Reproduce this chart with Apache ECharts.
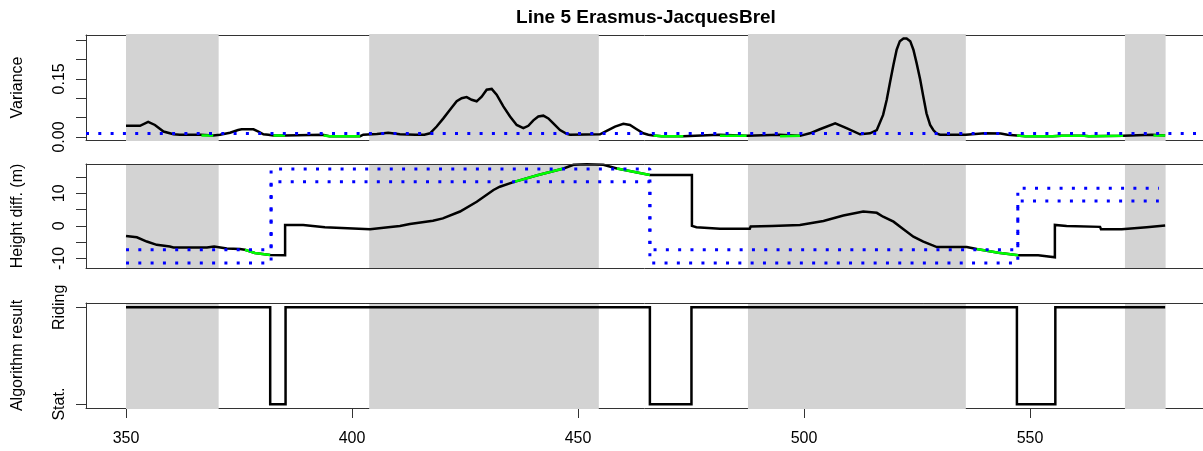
<!DOCTYPE html>
<html>
<head>
<meta charset="utf-8">
<script src="https://cdn.jsdelivr.net/npm/echarts@6/dist/echarts.min.js"></script>
<style>
  html, body { margin: 0; padding: 0; background: #fff; }
  #chart { width: 1203px; height: 451px; }
</style>
</head>
<body>
<div id="chart"></div>
<script>
// ---- data ----
const xTicks = [350, 400, 450, 500, 550];
const shadedSpans = [[350, 370.5], [403.8, 454.6], [487.6, 535.8], [571, 580]];

const varianceTicks = [0, 0.05, 0.1, 0.15, 0.2, 0.25];
const varianceLabels = [0, 0.15];
const varianceThreshold = 0.005;
const varianceCurve = [
  [350, 0.029], [353.1, 0.029], [354.9, 0.039], [356.4, 0.031], [358.3, 0.014], [360.5, 0.007],
  [361.9, 0.006], [366.5, 0.006], [366.7, 0.004], [369.3, 0.004], [369.5, 0.006], [370.8, 0.006],
  [373.0, 0.011], [374.8, 0.018], [375.6, 0.020], [378.2, 0.020], [379.3, 0.014], [380.4, 0.007],
  [381.5, 0.006], [382.6, 0.004], [385.2, 0.004], [385.5, 0.006], [393.5, 0.006], [393.7, 0.004],
  [395, 0.002], [401.8, 0.002], [402.5, 0.006], [405.5, 0.008], [408.0, 0.011], [410.6, 0.007],
  [414.0, 0.006], [416.0, 0.006], [417.26, 0.0095], [418.73, 0.027], [420.21, 0.048], [421.68, 0.070],
  [423.16, 0.092], [424.26, 0.100], [425.37, 0.103], [426.47, 0.096], [427.58, 0.092], [428.69, 0.104],
  [429.79, 0.122], [430.90, 0.124], [432.00, 0.109], [433.48, 0.079], [434.96, 0.053], [436.43, 0.031],
  [437.91, 0.023], [439.01, 0.029], [440.12, 0.043], [441.22, 0.053], [442.33, 0.055], [443.44, 0.048],
  [444.54, 0.035], [446.02, 0.018], [447.49, 0.008], [448.23, 0.006], [454.87, 0.007], [456.35, 0.016],
  [458.19, 0.027], [460.03, 0.034], [461.50, 0.031], [462.98, 0.020], [464.45, 0.0095], [465.56, 0.006],
  [466.7, 0.004], [468.5, 0.002], [473.3, 0.002], [473.6, 0.006], [481.2, 0.006], [481.4, 0.003],
  [487.3, 0.003], [487.6, 0.006], [494.5, 0.006], [494.7, 0.002], [499.1, 0.003], [501.3, 0.0095],
  [503.5, 0.020], [506.9, 0.035], [509.4, 0.023], [512.4, 0.007], [514.6, 0.0095], [516.1, 0.018],
  [517.5, 0.057], [518.3, 0.096], [519.0, 0.139], [519.8, 0.187], [520.5, 0.225], [521.2, 0.247],
  [522.0, 0.254], [522.7, 0.254], [523.5, 0.247], [524.2, 0.225], [524.9, 0.191], [525.7, 0.148],
  [526.4, 0.104], [527.1, 0.061], [527.9, 0.031], [528.6, 0.018], [529.3, 0.0095], [530.1, 0.006],
  [535.8, 0.006], [536.2, 0.011], [540, 0.010], [543.5, 0.009], [545, 0.006], [547.1, 0.004],
  [549, 0.002], [555, 0.002], [557, 0.003], [562, 0.003], [563, 0.002], [570.6, 0.003],
  [571, 0.006], [577.0, 0.006], [577.3, 0.004], [579.9, 0.004]
];
const varianceGreen = [
  [[366.7, 0.004], [369.3, 0.004]],
  [[382.6, 0.004], [385.2, 0.004]],
  [[393.7, 0.004], [395, 0.002], [401.8, 0.002]],
  [[466.7, 0.004], [468.5, 0.002], [473.3, 0.002]],
  [[481.4, 0.003], [487.3, 0.003]],
  [[494.7, 0.002], [499.1, 0.003]],
  [[547.1, 0.004], [549, 0.002], [555, 0.002], [557, 0.003], [562, 0.003], [563, 0.002], [570.6, 0.003]],
  [[577.3, 0.004], [579.9, 0.004]]
];

const heightTicks = [-10, -5, 0, 5, 10, 15];
const heightLabels = [-10, 0, 10];
const heightCurve = [
  [350.0, -3.1], [352.4, -3.5], [354.6, -4.8], [356.8, -5.8], [359.7, -6.3], [360.5, -6.6],
  [367.9, -6.6], [368.2, -6.0], [369.5, -6.3], [372.3, -6.9], [375.2, -7.1], [376.3, -7.3],
  [378.5, -8.3], [381.9, -8.9], [385.2, -9.0], [385.2, 0.3], [389.2, 0.3], [389.4, -0.3],
  [394.0, -0.4], [394.2, -1.0], [404.0, -1.0], [404.2, -0.4], [408.0, -0.4], [408.2, 0.1],
  [410.6, 0.0], [412.8, 0.6], [417.9, 1.6], [420.1, 2.3], [423.9, 4.4], [427.6, 7.4],
  [431.3, 11.0], [432.7, 12.0], [435.7, 13.4], [441, 15.5], [446.8, 17.6], [449.0, 18.7],
  [451.9, 18.9], [455.6, 18.7], [458.6, 17.6], [465.9, 15.6], [475.2, 15.6], [475.2, 0.0],
  [476.2, -0.4], [481.4, -0.9], [488.0, -0.9], [488.2, -0.2], [492.9, 0.0], [499.1, 0.3],
  [504.3, 1.5], [508.7, 3.2], [513.1, 4.4], [516.1, 4.0], [517.5, 2.8], [519.8, 1.3],
  [522.0, -1.0], [524.2, -3.3], [526.4, -4.8], [529.4, -6.5], [536.0, -6.5], [538.2, -7.1],
  [543, -8.2], [547.4, -9.0], [551.8, -9.0], [552.0, -9.6], [555.5, -9.6], [555.5, 0.3],
  [558.1, 0.0], [565.5, -0.3], [565.7, -1.0], [570.3, -1.0], [570.5, -0.4], [575.8, -0.4],
  [576.0, 0.1], [579.9, 0.1]
];
const heightGreen = [
  [[376.3, -7.3], [378.5, -8.3], [381.9, -8.9]],
  [[435.7, 13.4], [441, 15.5], [446.8, 17.6]],
  [[458.6, 17.6], [465.9, 15.6]],
  [[538.2, -7.1], [543, -8.2], [547.4, -9.0]]
];
const heightUpperBound = [
  [350, -7.3], [382.1, -7.3], [382.1, 17.4], [465.9, 17.4], [465.9, -7.3],
  [547.3, -7.3], [547.3, 11.5], [578.5, 11.5]
];
const heightLowerBound = [
  [350, -11.4], [382.1, -11.4], [382.1, 13.5], [465.9, 13.5], [465.9, -11.4],
  [547.3, -11.4], [547.3, 7.6], [578.5, 7.6]
];

const stateLabels = ['Stat.', 'Riding'];
const ridingState = [
  [350, 1], [381.9, 1], [381.9, 0], [385.3, 0], [385.3, 1], [465.9, 1], [465.9, 0],
  [475.1, 0], [475.1, 1], [547.1, 1], [547.1, 0], [555.6, 0], [555.6, 1], [579.9, 1]
];

// ---- layout ----
const FONT = '"Liberation Sans", Arial, sans-serif';
const BOX = '#333';
const plotLeft = 86, plotWidth = 1117;   // plot box runs past the right edge of the page
const xMin = 341.15, xMax = 588.27;
const panels = [
  { top: 35, height: 105, yMin: -0.0077, yMax: 0.2629, name: 'Variance',
    ticks: varianceTicks, labels: varianceLabels, fmt: v => v.toFixed(2),
    bordersOnTop: [false, false], bandPad: [1, 1] },
  { top: 164, height: 104, yMin: -12.9, yMax: 18.96, name: 'Height diff. (m)',
    ticks: heightTicks, labels: heightLabels, fmt: v => String(v),
    bordersOnTop: [true, true], bandPad: [0, 0] },
  { top: 303, height: 105, yMin: -0.04, yMax: 1.045, name: 'Algorithm result',
    ticks: [0, 1], labels: [0, 1], fmt: v => stateLabels[v],
    bordersOnTop: [true, false], bandPad: [0, 1] }
];

const grid = [], xAxis = [], yAxis = [], series = [];

panels.forEach((p, i) => {
  grid.push({ left: plotLeft, top: p.top, width: plotWidth, height: p.height, show: false });
  const isBottom = i === panels.length - 1;
  // bottom x axis (line doubles as box bottom)
  xAxis.push({
    type: 'value', gridIndex: i, min: xMin, max: xMax, position: 'bottom',
    z: p.bordersOnTop[1] ? 5 : 0,
    axisLine: { show: true, onZero: false, lineStyle: { color: BOX, width: 1 } },
    axisTick: { show: isBottom, length: 10, customValues: xTicks, lineStyle: { color: BOX } },
    axisLabel: { show: isBottom, customValues: xTicks, margin: 23, color: '#000',
      fontFamily: FONT, fontSize: 16 },
    splitLine: { show: false }
  });
  // top x axis: box top edge
  xAxis.push({
    type: 'value', gridIndex: i, min: xMin, max: xMax, position: 'top',
    z: p.bordersOnTop[0] ? 5 : 0,
    axisLine: { show: true, onZero: false, lineStyle: { color: BOX, width: 1 } },
    axisTick: { show: false }, axisLabel: { show: false }, splitLine: { show: false }
  });
  yAxis.push({
    type: 'value', gridIndex: i, min: p.yMin, max: p.yMax,
    name: p.name, nameLocation: 'middle', nameRotate: 90, nameGap: 60,
    nameTextStyle: { color: '#000', fontFamily: FONT, fontSize: 16 },
    axisLine: { show: true, onZero: false, lineStyle: { color: BOX, width: 1 } },
    axisTick: { show: true, length: 10, customValues: p.ticks, lineStyle: { color: BOX } },
    axisLabel: { customValues: p.labels, formatter: p.fmt, rotate: 90, margin: 18,
      color: '#000', fontFamily: FONT, fontSize: 16 },
    splitLine: { show: false }
  });
  // shaded spans
  series.push({
    type: 'custom', xAxisIndex: 2 * i, yAxisIndex: i, z: 1, silent: true,
    encode: { x: [0, 1] },
    data: shadedSpans,
    renderItem(params, api) {
      const cs = params.coordSys;
      const x0 = api.coord([api.value(0), p.yMin])[0];
      const x1 = api.coord([api.value(1), p.yMin])[0];
      return {
        type: 'rect',
        shape: { x: x0, y: cs.y - p.bandPad[0], width: x1 - x0, height: cs.height + p.bandPad[0] + p.bandPad[1] },
        style: { fill: '#d3d3d3' }
      };
    }
  });
});

function lineSeries(idx, data, color, z, extra) {
  return Object.assign({
    type: 'line', xAxisIndex: 2 * idx, yAxisIndex: idx, data, z,
    showSymbol: false, symbol: 'none', silent: true,
    lineStyle: { color, width: 2.5, cap: 'butt', join: 'miter' }
  }, extra || {});
}
const blueDots = { color: '#0000ff', width: 3, type: [3, 9.3], cap: 'butt' };

// panel 1
series.push(lineSeries(0, varianceCurve, '#000', 2));
varianceGreen.forEach(seg => series.push(lineSeries(0, seg, '#00ff00', 3)));
series.push(lineSeries(0, [], '#0000ff', 4, {
  markLine: {
    silent: true, symbol: ['none', 'none'], label: { show: false },
    lineStyle: blueDots, data: [{ yAxis: varianceThreshold }]
  }
}));
// panel 2
series.push(lineSeries(1, heightCurve, '#000', 2));
heightGreen.forEach(seg => series.push(lineSeries(1, seg, '#00ff00', 3)));
series.push(lineSeries(1, heightUpperBound, '#0000ff', 4, { lineStyle: blueDots }));
series.push(lineSeries(1, heightLowerBound, '#0000ff', 4, { lineStyle: blueDots }));
// panel 3
series.push(lineSeries(2, ridingState, '#000', 2, { lineStyle: { color: '#000', width: 2.5, join: 'miter' } }));

const chart = echarts.init(document.getElementById('chart'), null, { renderer: 'canvas' });
chart.setOption({
  animation: false,
  backgroundColor: '#fff',
  graphic: [{
    type: 'text', x: 646, y: 18,
    style: { text: 'Line 5 Erasmus-JacquesBrel', font: 'bold 19px ' + FONT,
      fill: '#000', textAlign: 'center', textVerticalAlign: 'middle' }
  }],
  grid, xAxis, yAxis, series
});
</script>
</body>
</html>
